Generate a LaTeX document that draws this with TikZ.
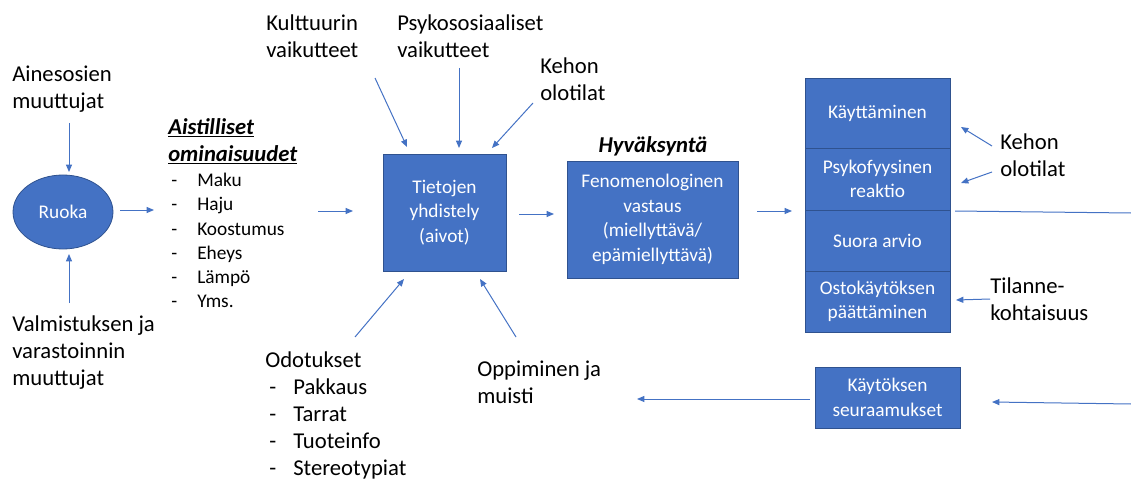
\documentclass[tikz,border=0pt]{standalone}
\usepackage{fontspec}
\setmainfont{Carlito}
\usetikzlibrary{arrows.meta,shapes.geometric}
\definecolor{boxblue}{HTML}{4472C4}
\definecolor{boxedge}{HTML}{2F528F}
\definecolor{arrowblue}{HTML}{4472C4}
\newcommand\pxu{0.75pt}
\newcommand\lblfont{\fontsize{17pt}{20.25pt}\selectfont}
\newcommand\boxfont{\fontsize{14.5pt}{18.5pt}\selectfont}
\newcommand\listfont{\fontsize{14.5pt}{18.2pt}\selectfont}
\newcommand\dashitem[1]{\makebox[19.5pt][l]{-}#1}
\newcommand\odotitem[1]{\hspace*{3pt}\makebox[18pt][l]{-}#1}
\begin{document}
\begin{tikzpicture}[x=0.75pt,y=-0.75pt,
  bluebox/.style={rectangle, fill=boxblue, draw=boxedge, line width=0.6pt, text=white, font=\boxfont, align=center, inner sep=0pt},
  lbl/.style={font=\lblfont, align=left, anchor=west, inner sep=0pt, text=black},
  arr/.style={draw=arrowblue, line width=0.75pt, -{Triangle[length=5.5pt,width=4.5pt]}},
  plainline/.style={draw=arrowblue, line width=0.75pt}]
\useasboundingbox (0,0) rectangle (1131,481);

% boxes
\node[bluebox, ellipse, minimum width={100*\pxu}, minimum height={74*\pxu}] (ruoka) at (63,212) {Ruoka};
\node[bluebox, minimum width={123*\pxu}, minimum height={117*\pxu}] (tiet) at (444.5,212.5) {Tietojen\\yhdistely\\(aivot)};
\node[bluebox, minimum width={171*\pxu}, minimum height={117*\pxu}] (feno) at (652.5,219.5) {Fenomenologinen\\vastaus\\(miellyttävä/\\epämiellyttävä)};
\node[bluebox, minimum width={145*\pxu}, minimum height={70*\pxu}] (kaytt) at (877.5,113) {Käyttäminen};
\node[bluebox, minimum width={145*\pxu}, minimum height={62*\pxu}] (psyko) at (877.5,179) {Psykofyysinen\\reaktio};
\node[bluebox, minimum width={145*\pxu}, minimum height={61*\pxu}] (suora) at (877.5,240.5) {Suora arvio};
\node[bluebox, minimum width={145*\pxu}, minimum height={61*\pxu}] (osto) at (877.5,301.5) {Ostokäytöksen\\päättäminen};
\node[bluebox, minimum width={145*\pxu}, minimum height={61*\pxu}] (seur) at (887.5,397.5) {Käytöksen\\seuraamukset};

% labels
\node[lbl] (aines) at (12,89.5) {Ainesosien\\muuttujat};
\node[lbl] (valm) at (12,352.5) {Valmistuksen ja\\varastoinnin\\muuttujat};
\node[lbl, font=\lblfont\bfseries\itshape] (aist) at (168,141.5) {\underline{Aistilliset}\\\underline{ominaisuudet}};
\node[lbl, font=\listfont] (aistlist) at (171,240.5) {\dashitem{Maku}\\\dashitem{Haju}\\\dashitem{Koostumus}\\\dashitem{Eheys}\\\dashitem{Lämpö}\\\dashitem{Yms.}};
\node[lbl] (kult) at (266,36.5) {Kulttuurin\\vaikutteet};
\node[lbl] (psyk) at (397,36) {Psykososiaaliset\\vaikutteet};
\node[lbl] (kehon1) at (540,79.5) {Kehon\\olotilat};
\node[font=\lblfont\bfseries\itshape, inner sep=0pt] (hyv) at (653,146) {Hyväksyntä};
\node[lbl] (kehon2) at (1000,155.5) {Kehon\\olotilat};
\node[lbl] (tilanne) at (990,299) {Tilanne-\\kohtaisuus};
\node[lbl] (odot) at (265,415.5) {Odotukset\\\odotitem{Pakkaus}\\\odotitem{Tarrat}\\\odotitem{Tuoteinfo}\\\odotitem{Stereotypiat}};
\node[lbl] (oppi) at (477,382.5) {Oppiminen ja\\muisti};

% connector end points
\coordinate (c1a) at (69,123);  \coordinate (c1b) at (69,172);
\coordinate (c2a) at (69,303);  \coordinate (c2b) at (69,254);
\coordinate (c3a) at (120,210); \coordinate (c3b) at (154,210);
\coordinate (c4a) at (318,211); \coordinate (c4b) at (353,211);
\coordinate (c5a) at (375,78);  \coordinate (c5b) at (407,147);
\coordinate (c6a) at (459,68);  \coordinate (c6b) at (459,148);
\coordinate (c7a) at (533,103); \coordinate (c7b) at (492,148);
\coordinate (c8a) at (355,337); \coordinate (c8b) at (404,279);
\coordinate (c9a) at (516,337); \coordinate (c9b) at (480,279);
\coordinate (c10a) at (519,214); \coordinate (c10b) at (554,214);
\coordinate (c11a) at (757,211); \coordinate (c11b) at (792,211);
\coordinate (c12a) at (992,146); \coordinate (c12b) at (961,127);
\coordinate (c13a) at (992,172); \coordinate (c13b) at (961,183);
\coordinate (c14a) at (955,211); \coordinate (c14b) at (1131,213);
\coordinate (c15a) at (990,299); \coordinate (c15b) at (956,300);
\coordinate (c16a) at (1131,404); \coordinate (c16b) at (992,402);
\coordinate (c17a) at (810,399); \coordinate (c17b) at (637,399);

\draw[arr] (c1a) -- (c1b);
\draw[arr] (c2a) -- (c2b);
\draw[arr] (c3a) -- (c3b);
\draw[arr] (c4a) -- (c4b);
\draw[arr] (c5a) -- (c5b);
\draw[arr] (c6a) -- (c6b);
\draw[arr] (c7a) -- (c7b);
\draw[arr] (c8a) -- (c8b);
\draw[arr] (c9a) -- (c9b);
\draw[arr] (c10a) -- (c10b);
\draw[arr] (c11a) -- (c11b);
\draw[arr] (c12a) -- (c12b);
\draw[arr] (c13a) -- (c13b);
\draw[plainline] (c14a) -- (c14b);
\draw[arr] (c15a) -- (c15b);
\draw[arr] (c16a) -- (c16b);
\draw[arr] (c17a) -- (c17b);
\end{tikzpicture}
\end{document}
